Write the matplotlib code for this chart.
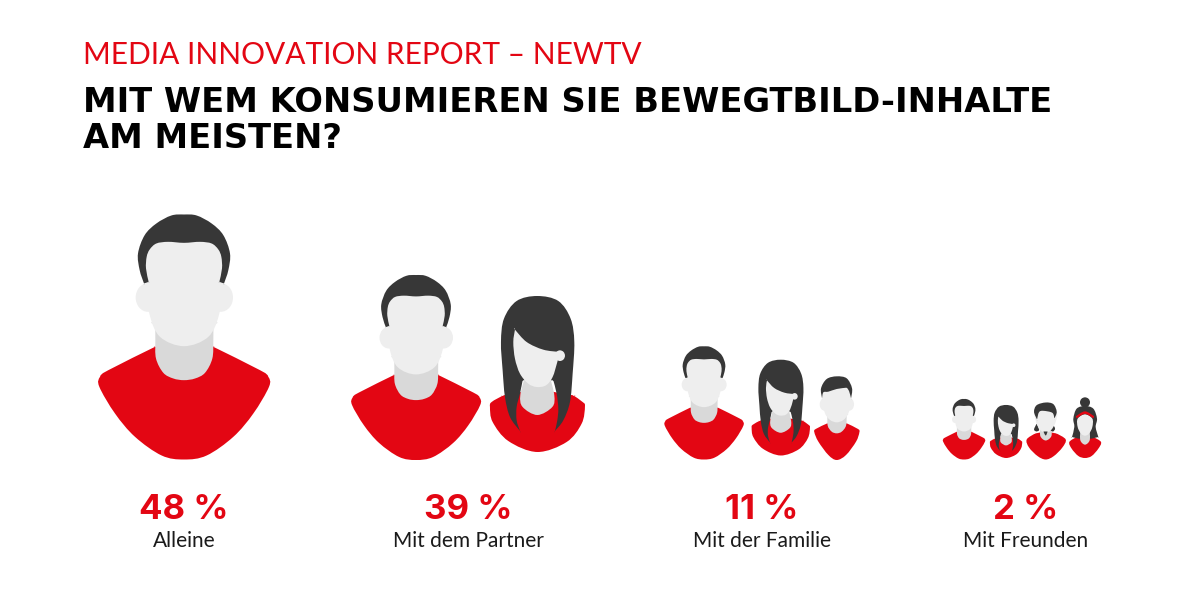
# -*- coding: utf-8 -*-
import numpy as np
import matplotlib
matplotlib.use('Agg')
import matplotlib.pyplot as plt
from matplotlib.path import Path
from matplotlib.patches import PathPatch, Ellipse

# data
categories = ['Alleine', 'Mit dem Partner', 'Mit der Familie', 'Mit Freunden']
shares = [48, 39, 11, 2]
kicker = 'MEDIA INNOVATION REPORT – NEWTV'
question = ['MIT WEM KONSUMIEREN SIE BEWEGTBILD-INHALTE', 'AM MEISTEN?']

RED = '#e30613'
DARK = '#373737'
SKIN = '#eeeeee'
NECK = '#d9d9d9'

label_x = [184, 468, 762, 1026]

# figures per group: kind, centre x, bottom y, scale
groups = [
    [('man', 184, 459.5, 1.0)],
    [('man', 416, 460, 0.755), ('woman', 537.3, 452, 1.0)],
    [('man', 704, 459.5, 0.462), ('woman', 780.7, 455.5, 0.614), ('boy', 836.7, 460, 1.0)],
    [('man', 964, 459.5, 0.247), ('woman', 1006, 458, 0.34), ('short', 1045.7, 459.5, 1.0), ('bun', 1085, 458, 1.0)],
]


def smooth(points):
    # closed catmull-rom through points, doubled points give a sharp corner
    p = np.array(points, dtype=float)
    n = len(p)
    verts = [p[0]]
    codes = [Path.MOVETO]
    for i in range(n):
        p0, p1, p2, p3 = p[i - 1], p[i], p[(i + 1) % n], p[(i + 2) % n]
        verts += [p1 + (p2 - p0) / 6, p2 - (p3 - p1) / 6, p2]
        codes += [Path.CURVE4] * 3
    return np.array(verts), codes


def blob(ax, points, color, cx, cy, s, ox, oy, z):
    v, c = smooth(points)
    v = np.column_stack((cx + (v[:, 0] - ox) / 3 * s, cy + (v[:, 1] - oy) / 3 * s))
    ax.add_patch(PathPatch(Path(v, c), fc=color, ec='none', zorder=z))


def oval(ax, x, y, w, h, color, cx, cy, s, ox, oy, z):
    ax.add_patch(Ellipse((cx + (x - ox) / 3 * s, cy + (y - oy) / 3 * s),
                         w / 3 * s, h / 3 * s, fc=color, ec='none', zorder=z))


def draw_man(ax, cx, cy, s):
    o = (312, 778)
    blob(ax, [(225, 440), (225, 440), (85, 510), (60, 530), (58, 560), (105, 640), (165, 710), (245, 766),
              (312, 778), (380, 766), (460, 710), (520, 640), (567, 560), (565, 530), (540, 510),
              (400, 440), (400, 440), (312, 420)], RED, cx, cy, s, *o, 2)
    blob(ax, [(226, 370), (226, 370), (226, 420), (228, 475), (250, 518), (280, 535), (312, 540), (345, 535),
              (375, 518), (397, 475), (400, 420), (400, 370), (400, 370)],
         NECK, cx, cy, s, *o, 3)
    oval(ax, 204, 292, 74, 86, SKIN, cx, cy, s, *o, 4)
    oval(ax, 422, 292, 74, 86, SKIN, cx, cy, s, *o, 4)
    blob(ax, [(200, 150), (250, 120), (312, 118), (375, 120), (424, 150), (428, 240), (418, 340), (385, 410),
              (312, 438), (240, 410), (208, 340), (198, 240)], SKIN, cx, cy, s, *o, 4)
    blob(ax, [(312, 43), (350, 46), (395, 70), (430, 105), (450, 160), (445, 210), (432, 250), (432, 250),
              (418, 245), (418, 245), (426, 205), (424, 170), (415, 148), (395, 130), (360, 125), (312, 128),
              (264, 125), (229, 130), (209, 148), (200, 170), (198, 205), (206, 245), (206, 245),
              (192, 250), (192, 250), (179, 210), (174, 160), (194, 105), (229, 70), (274, 46)], DARK, cx, cy, s, *o, 5)


def draw_woman(ax, cx, cy, s):
    o = (592, 515)
    blob(ax, [(490, 345), (490, 345), (455, 365), (450, 380), (458, 425), (505, 482), (592, 515), (680, 485),
              (725, 430), (735, 378), (728, 365), (700, 345), (700, 345), (592, 330)], RED, cx, cy, s, *o, 2)
    blob(ax, [(592, 47), (655, 62), (692, 115), (703, 185), (698, 280), (690, 365), (670, 420), (645, 452), (645, 452),
              (652, 420), (655, 385), (650, 340), (640, 300), (640, 300), (548, 300), (548, 300), (540, 340),
              (530, 380), (530, 420), (540, 452), (540, 452),
              (510, 410), (495, 350), (488, 270), (483, 185), (492, 115), (530, 62)], DARK, cx, cy, s, *o, 3)
    blob(ax, [(555, 290), (555, 290), (541, 345), (548, 380), (592, 404), (637, 380), (643, 345), (630, 290), (630, 290)],
         NECK, cx, cy, s, *o, 4)
    oval(ax, 660, 226, 30, 32, SKIN, cx, cy, s, *o, 5)
    blob(ax, [(525, 148), (525, 148), (560, 185), (610, 208), (660, 215), (660, 215), (652, 245), (638, 290), (618, 315),
              (590, 320), (565, 310), (540, 280), (525, 235), (520, 185)], SKIN, cx, cy, s, *o, 5)


def draw_boy(ax, cx, cy, s):
    o = (560, 375)
    blob(ax, [(532, 265), (532, 265), (497, 282), (493, 292), (505, 320), (535, 360), (560, 375), (588, 360),
              (618, 320), (628, 292), (624, 282), (590, 265), (590, 265), (560, 258)], RED, cx, cy, s, *o, 2)
    blob(ax, [(532, 240), (532, 240), (533, 272), (545, 290), (560, 295), (575, 290), (588, 272), (590, 240), (590, 240)],
         NECK, cx, cy, s, *o, 3)
    oval(ax, 523, 208, 28, 38, SKIN, cx, cy, s, *o, 4)
    oval(ax, 598, 208, 28, 38, SKIN, cx, cy, s, *o, 4)
    blob(ax, [(520, 150), (560, 145), (600, 150), (603, 200), (595, 235), (580, 255), (560, 262), (540, 255),
              (525, 235), (518, 200)], SKIN, cx, cy, s, *o, 4)
    blob(ax, [(560, 124), (590, 130), (606, 160), (603, 190), (603, 190), (597, 168), (590, 158), (590, 158),
              (560, 162), (535, 170), (520, 172), (516, 190), (516, 190), (513, 160), (530, 132)], DARK, cx, cy, s, *o, 5)


def draw_short(ax, cx, cy, s):
    o = (332, 208)
    blob(ax, [(300, 130), (300, 130), (275, 148), (282, 172), (308, 198), (332, 208), (356, 198), (382, 172),
              (392, 148), (365, 130), (365, 130), (332, 125)], RED, cx, cy, s, *o, 2)
    blob(ax, [(316, 110), (316, 110), (316, 138), (332, 151), (349, 138), (349, 110), (349, 110)], NECK, cx, cy, s, *o, 3)
    blob(ax, [(305, 100), (305, 100), (297, 118), (305, 124), (313, 120), (313, 120)], DARK, cx, cy, s, *o, 3)
    blob(ax, [(352, 100), (352, 100), (360, 115), (354, 124), (345, 120), (345, 120)], DARK, cx, cy, s, *o, 3)
    blob(ax, [(303, 65), (362, 65), (362, 95), (348, 120), (332, 128), (316, 120), (303, 95)], SKIN, cx, cy, s, *o, 4)
    blob(ax, [(325, 124), (325, 124), (332, 136), (338, 124), (338, 124)], DARK, cx, cy, s, *o, 5)
    blob(ax, [(332, 37), (355, 42), (365, 65), (358, 85), (358, 85), (352, 68), (325, 62), (312, 66), (306, 88), (306, 88),
              (297, 65), (305, 45)], DARK, cx, cy, s, *o, 5)


def draw_bun(ax, cx, cy, s):
    o = (450, 203)
    blob(ax, [(425, 140), (425, 140), (403, 155), (410, 175), (430, 197), (450, 203), (470, 197), (490, 175),
              (498, 155), (475, 140), (475, 140), (450, 135)], RED, cx, cy, s, *o, 2)
    oval(ax, 450, 36, 30, 30, DARK, cx, cy, s, *o, 3)
    blob(ax, [(450, 47), (475, 55), (486, 85), (482, 110), (490, 140), (490, 140), (470, 145), (470, 145),
              (430, 145), (430, 145), (411, 140), (411, 140), (418, 110), (415, 85), (425, 55)], DARK, cx, cy, s, *o, 3)
    blob(ax, [(436, 120), (436, 120), (436, 150), (450, 163), (464, 150), (464, 120), (464, 120)], NECK, cx, cy, s, *o, 4)
    blob(ax, [(428, 85), (450, 72), (472, 85), (472, 110), (462, 130), (450, 136), (438, 130), (428, 110)], SKIN, cx, cy, s, *o, 5)
    blob(ax, [(422, 78), (422, 78), (450, 63), (478, 78), (478, 78), (475, 84), (475, 84), (450, 71), (425, 84), (425, 84)],
         RED, cx, cy, s, *o, 6)


drawers = {'man': draw_man, 'woman': draw_woman, 'boy': draw_boy, 'short': draw_short, 'bun': draw_bun}

fig = plt.figure(figsize=(12, 6.14), dpi=100, facecolor='white')
ax = fig.add_axes([0, 0, 1, 1])
ax.set_xlim(0, 1200)
ax.set_ylim(614, 0)
ax.axis('off')

ax.text(83, 55, kicker, color=RED, fontsize=21.5, family='Lato', fontweight='normal', va='center', ha='left')
ax.text(83, 102, question[0], color='black', fontsize=24.3, family='DejaVu Sans', fontweight='bold', va='center', ha='left')
ax.text(83, 138, question[1], color='black', fontsize=24.3, family='DejaVu Sans', fontweight='bold', va='center', ha='left')

for group in groups:
    for kind, cx, cy, s in group:
        drawers[kind](ax, cx, cy, s)

for x, share, name in zip(label_x, shares, categories):
    ax.text(x, 510, '%d %%' % share, color=RED, fontsize=25, family='Inter', fontweight='bold', va='center', ha='center')
    ax.text(x, 541, name, color='#1a1a1a', fontsize=15, family='Lato', va='center', ha='center')

fig.savefig('out.png', dpi=100, facecolor='white')
